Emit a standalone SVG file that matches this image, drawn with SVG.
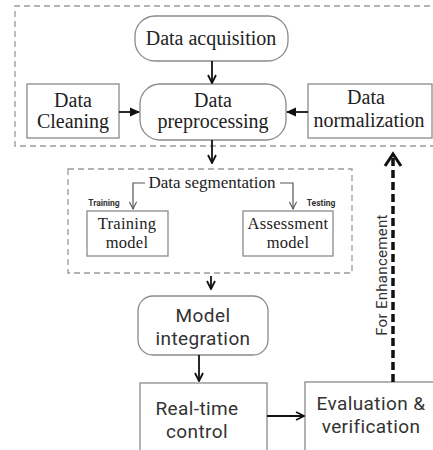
<svg xmlns="http://www.w3.org/2000/svg" width="433" height="450" viewBox="0 0 433 450">
<defs>
<marker id="chev" viewBox="0 0 10 10" refX="9" refY="5" markerWidth="10" markerHeight="10" markerUnits="userSpaceOnUse" orient="auto">
<path d="M1,1 L9,5 L1,9" fill="none" stroke="#111" stroke-width="1.8"/>
</marker>
<marker id="thin" viewBox="0 0 10 10" refX="9" refY="5" markerWidth="9" markerHeight="9" markerUnits="userSpaceOnUse" orient="auto">
<path d="M1,1 L9,5 L1,9" fill="none" stroke="#555" stroke-width="1.2"/>
</marker>
<marker id="tri" viewBox="0 0 10 10" refX="9" refY="5" markerWidth="10" markerHeight="10" markerUnits="userSpaceOnUse" orient="auto">
<path d="M0,0.5 L10,5 L0,9.5 Z" fill="#111"/>
</marker>
</defs>
<style>
.box{fill:#fff;stroke:#8a8a8a;stroke-width:1.3}
.grp{fill:none;stroke:#9a9a9a;stroke-width:1.3;stroke-dasharray:6 4}
.serif{font-family:"Liberation Serif","Times New Roman",serif;fill:#222;text-anchor:middle}
.sans{font-family:Roboto,"Open Sans","Noto Sans",sans-serif;fill:#333;text-anchor:middle;letter-spacing:0.4px}
.small{font-family:Roboto,"Open Sans",sans-serif;font-size:8.5px;font-weight:bold;fill:#333;text-anchor:middle}
.arr{fill:none;stroke:#111;stroke-width:1.8}
</style>
<rect width="433" height="450" fill="#fff"/>
<g id="group-preprocessing">
<path class="grp" d="M440,6 L15,6 L15,146 L440,146"/>
</g>
<g id="group-segmentation">
<rect class="grp" x="68" y="169" width="284" height="104"/>
</g>
<g id="data-acquisition">
<rect class="box" x="135" y="16" width="153" height="45" rx="20"/>
<text class="serif" x="211" y="45" font-size="20">Data acquisition</text>
</g>
<g id="data-preprocessing">
<rect class="box" x="140" y="84" width="146" height="56" rx="20"/>
<text class="serif" x="213" y="107" font-size="20">Data</text>
<text class="serif" x="213" y="128" font-size="20">preprocessing</text>
</g>
<g id="data-cleaning">
<rect class="box" x="27" y="84" width="92" height="54"/>
<text class="serif" x="73" y="107" font-size="20">Data</text>
<text class="serif" x="73" y="128" font-size="20">Cleaning</text>
</g>
<g id="data-normalization">
<rect class="box" x="308" y="84" width="124" height="54"/>
<text class="serif" x="366" y="104" font-size="20">Data</text>
<text class="serif" x="369" y="127" font-size="20">normalization</text>
</g>
<g id="data-segmentation">
<text class="serif" x="212" y="188" font-size="17">Data segmentation</text>
<text class="small" x="104" y="206">Training</text>
<text class="small" x="321" y="206">Testing</text>
</g>
<g id="training-model">
<rect class="box" x="87" y="211" width="81" height="45"/>
<text class="serif" x="127" y="229" font-size="16.5" style="letter-spacing:0.3px">Training</text>
<text class="serif" x="127" y="247.5" font-size="16.5" style="letter-spacing:0.3px">model</text>
</g>
<g id="assessment-model">
<rect class="box" x="243" y="211" width="90" height="45"/>
<text class="serif" x="288" y="229" font-size="16.5" style="letter-spacing:0.3px">Assessment</text>
<text class="serif" x="288" y="247.5" font-size="16.5" style="letter-spacing:0.3px">model</text>
</g>
<g id="model-integration">
<rect class="box" x="138" y="296" width="130" height="59" rx="15"/>
<text class="sans" x="203" y="322" font-size="19">Model</text>
<text class="sans" x="203" y="344.5" font-size="19">integration</text>
</g>
<g id="real-time-control">
<rect class="box" x="140" y="383" width="127" height="80"/>
<text class="sans" x="197" y="415" font-size="19">Real-time</text>
<text class="sans" x="197" y="437.5" font-size="19">control</text>
</g>
<g id="evaluation-verification">
<rect class="box" x="305" y="382" width="140" height="80"/>
<text class="sans" x="371" y="410" font-size="19">Evaluation &amp;</text>
<text class="sans" x="371" y="432.5" font-size="19">verification</text>
</g>
<g id="connectors">
<line class="arr" x1="212" y1="61" x2="212" y2="83" marker-end="url(#chev)"/>
<line class="arr" x1="119" y1="112" x2="139" y2="112" marker-end="url(#tri)"/>
<line class="arr" x1="308" y1="112" x2="287" y2="112" marker-end="url(#tri)"/>
<line class="arr" x1="212" y1="140" x2="212" y2="163" marker-end="url(#chev)"/>
<polyline fill="none" stroke="#555" stroke-width="1.2" points="145,183 133,183 133,209" marker-end="url(#thin)"/>
<polyline fill="none" stroke="#555" stroke-width="1.2" points="280,183 293,183 293,209" marker-end="url(#thin)"/>
<line class="arr" x1="211" y1="276" x2="211" y2="289" marker-end="url(#chev)"/>
<line class="arr" x1="199" y1="355" x2="199" y2="381" marker-end="url(#chev)"/>
<line class="arr" x1="267" y1="416" x2="304" y2="416" marker-end="url(#chev)"/>
<line x1="393" y1="382" x2="393" y2="158" stroke="#111" stroke-width="3.5" stroke-dasharray="8 4"/>
<path d="M385,166 L393,154 L401,166" fill="none" stroke="#111" stroke-width="3"/>
<text class="sans" transform="translate(387,275) rotate(-90)" font-size="15" style="letter-spacing:0.3px">For Enhancement</text>
</g>
</svg>
